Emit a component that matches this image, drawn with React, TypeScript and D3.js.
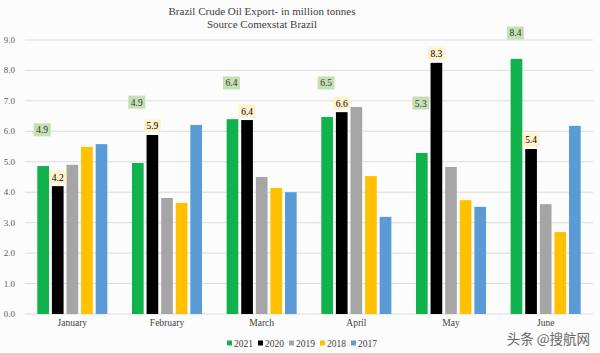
import React from "react";
import * as d3 from "d3";

const months = ["January", "February", "March", "April", "May", "June"];
const years = ["2021", "2020", "2019", "2018", "2017"];
const colors = ["#10b24b", "#000000", "#a5a5a5", "#ffc000", "#5b9bd5"];

const v2021 = [4.86, 4.96, 6.4, 6.47, 5.29, 8.38];
const v2020 = [4.2, 5.88, 6.37, 6.63, 8.25, 5.42];
const v2019 = [4.9, 3.81, 4.5, 6.8, 4.83, 3.61];
const v2018 = [5.49, 3.65, 4.14, 4.53, 3.74, 2.69];
const v2017 = [5.58, 6.21, 4.0, 3.19, 3.52, 6.18];
const series = [v2021, v2020, v2019, v2018, v2017];

const labels2021 = ["4.9", "4.9", "6.4", "6.5", "5.3", "8.4"];
// heights (data units) where the green callouts sit
const labelAnchor2021 = [6.05, 6.96, 7.59, 7.59, 6.93, 9.23];
const labels2020 = ["4.2", "5.9", "6.4", "6.6", "8.3", "5.4"];

const yTicks = [0, 1, 2, 3, 4, 5, 6, 7, 8, 9];

const width = 600;
const height = 353;
const margin = { top: 40, right: 7, bottom: 39, left: 25 };

const x = d3.scaleBand().domain(months).range([margin.left, width - margin.right]).paddingInner(0.26).paddingOuter(0.13);
const xi = d3.scaleBand().domain(years).range([0, x.bandwidth()]).paddingInner(0.2);
const y = d3.scaleLinear().domain([0, 9]).range([height - margin.bottom, margin.top]);

const serif = "'Liberation Serif', 'Times New Roman', serif";

export default function App() {
  return (
    <svg width={width} height={height} style={{ position: "absolute", left: 0, top: 0, background: "#fcfcfc" }} fontFamily={serif}>
      <text x={262} y={15} textAnchor="middle" fontSize={11} fill="#404040">Brazil Crude Oil Export- in million tonnes</text>
      <text x={262} y={28} textAnchor="middle" fontSize={11} fill="#404040">Source Comexstat Brazil</text>

      {yTicks.map((t) => (
        <g key={t}>
          <line x1={margin.left} x2={width - margin.right} y1={y(t)} y2={y(t)} stroke="#dcdcdc" strokeWidth={1} />
          <text x={15} y={y(t) + 3} textAnchor="end" fontSize={9} fill="#595959">{d3.format(".1f")(t)}</text>
        </g>
      ))}

      {months.map((m, i) => (
        <g key={m} transform={`translate(${x(m)},0)`}>
          {years.map((yr, s) => (
            <rect key={yr} x={xi(yr)} y={y(series[s][i])} width={xi.bandwidth()} height={y(0) - y(series[s][i])} fill={colors[s]} />
          ))}
          <text x={x.bandwidth() / 2} y={height - margin.bottom + 12} textAnchor="middle" fontSize={9.5} fill="#404040">{m}</text>
        </g>
      ))}

      {months.map((m, i) => {
        const cx = (x(m) as number) + (xi("2021") as number) + xi.bandwidth() / 2 - 1;
        const cy = y(labelAnchor2021[i]);
        return (
          <g key={"l21" + m}>
            <rect x={cx - 8.5} y={cy - 6.5} width={17} height={13} fill="#c5e0b4" />
            <text x={cx} y={cy + 3.5} textAnchor="middle" fontSize={9.5} fill="#333">{labels2021[i]}</text>
          </g>
        );
      })}

      {months.map((m, i) => {
        const cx = (x(m) as number) + (xi("2020") as number) + xi.bandwidth() / 2;
        const cy = y(v2020[i]) - 9;
        return (
          <g key={"l20" + m}>
            <rect x={cx - 8.5} y={cy - 6.5} width={17} height={13} fill="#fff2cc" />
            <text x={cx} y={cy + 3.5} textAnchor="middle" fontSize={9.5} fill="#000">{labels2020[i]}</text>
          </g>
        );
      })}

      {years.map((yr, s) => (
        <g key={"lg" + yr} transform={`translate(${227 + s * 31},343)`}>
          <rect x={0} y={-2.5} width={5} height={5} fill={colors[s]} />
          <text x={7} y={3.5} fontSize={9.5} fill="#404040">{yr}</text>
        </g>
      ))}

      <text x={590} y={344} textAnchor="end" fontSize={13.5} fill="#666" fontFamily="'Noto Sans CJK SC', sans-serif">头条 @搜航网</text>
    </svg>
  );
}
